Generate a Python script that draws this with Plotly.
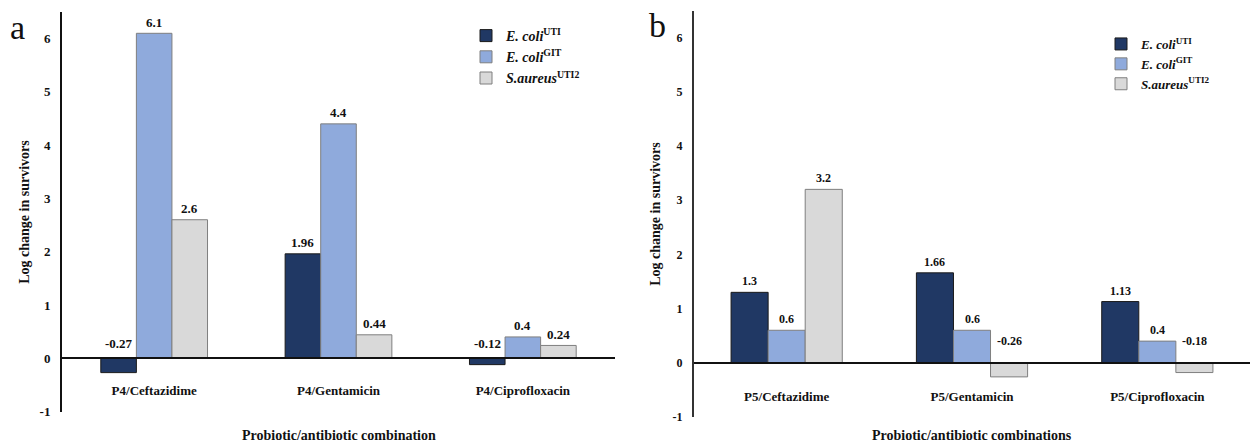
import plotly.graph_objects as go

# ---- data -------------------------------------------------------------
combos_a = ["P4/Ceftazidime", "P4/Gentamicin", "P4/Ciprofloxacin"]
combos_b = ["P5/Ceftazidime", "P5/Gentamicin", "P5/Ciprofloxacin"]

series_names = [
    "<i>E. coli</i><sup>UTI</sup>",
    "<i>E. coli</i><sup>GIT</sup>",
    "<i>S.aureus</i><sup>UTI2</sup>",
]

ecoli_uti_a = [-0.27, 1.96, -0.12]
ecoli_git_a = [6.1, 4.4, 0.4]
saureus_a = [2.6, 0.44, 0.24]

ecoli_uti_b = [1.3, 1.66, 1.13]
ecoli_git_b = [0.6, 0.6, 0.4]
saureus_b = [3.2, -0.26, -0.18]

y_ticks = [-1, 0, 1, 2, 3, 4, 5, 6]
y_tick_text = ["-1", "0", "1", "2", "3", "4", "5", "6"]

# ---- styling ----------------------------------------------------------
FONT = "Liberation Serif, Times New Roman, serif"
COLORS = ["#203864", "#8FAADC", "#D9D9D9"]
OUTLINES = ["#1a1a1a", "#7f7f7f", "#7f7f7f"]
W, H = 1250, 444
Y_RANGE = [-1, 6.5]

panels = [
    dict(cats=combos_a, vals=[ecoli_uti_a, ecoli_git_a, saureus_a],
         xd=[62 / W, 615 / W], yd=[1 - 411.5 / H, 1 - 12 / H],
         bw=0.193, ax="", legend="legend", lab_size=13, tick_size=13,
         neg_shift=15, axcolor="#111111", letter="a", letter_x=17, letter_y=27,
         ytitle_x=25, xtitle="Probiotic/antibiotic combination", standoff=20),
    dict(cats=combos_b, vals=[ecoli_uti_b, ecoli_git_b, saureus_b],
         xd=[694 / W, 1.0], yd=[1 - 417 / H, 1 - 10.5 / H],
         bw=0.2, ax="2", legend="legend2", lab_size=12, tick_size=12,
         neg_shift=22, axcolor="#333333", letter="b", letter_x=657, letter_y=26,
         ytitle_x=656, xtitle="Probiotic/antibiotic combinations", standoff=22),
]

fig = go.Figure()
annotations = []
layout = {}

for p in panels:
    ax = p["ax"]
    xref, yref = "x" + ax, "y" + ax
    n = len(p["cats"])
    for s, vals in enumerate(p["vals"]):
        xs = [i + (s - 1) * p["bw"] for i in range(n)]
        fig.add_trace(go.Bar(
            x=xs, y=vals, width=p["bw"], name=series_names[s],
            marker=dict(color=COLORS[s], line=dict(color=OUTLINES[s], width=1)),
            xaxis=xref, yaxis=yref, legend=p["legend"], showlegend=True,
            hoverinfo="skip",
        ))
        for x, v in zip(xs, vals):
            annotations.append(dict(
                x=x, y=max(v, 0), xref=xref, yref=yref, text=f"<b>{v:g}</b>",
                showarrow=False, yanchor="middle",
                yshift=(11 if v >= 0 else p["neg_shift"]),
                font=dict(family=FONT, size=p["lab_size"], color="#111111"),
            ))

    # x axis sits at the zero level of the y axis
    y0 = p["yd"][0] + (0 - Y_RANGE[0]) / (Y_RANGE[1] - Y_RANGE[0]) * (p["yd"][1] - p["yd"][0])
    layout["xaxis" + ax] = dict(
        domain=p["xd"], range=[-0.5, n - 0.5], anchor="free", position=y0,
        tickvals=list(range(n)), ticktext=p["cats"], showline=True,
        linecolor="#111111", linewidth=1.5, showgrid=False, zeroline=False,
        ticks="", ticklabelstandoff=p["standoff"], automargin=False,
        tickfont=dict(family=FONT, size=13, color="#111111", weight="bold"),
        fixedrange=True,
    )
    layout["yaxis" + ax] = dict(
        domain=p["yd"], range=Y_RANGE, anchor=xref,
        tickvals=y_ticks, ticktext=y_tick_text,
        showline=True, linecolor=p["axcolor"], linewidth=2, showgrid=False,
        zeroline=False, ticks="outside", ticklen=7, tickcolor="rgba(0,0,0,0)",
        automargin=False,
        tickfont=dict(family=FONT, size=p["tick_size"], color="#111111", weight="bold"),
        fixedrange=True,
    )
    # panel letter
    annotations.append(dict(
        x=p["letter_x"] / W, y=1 - p["letter_y"] / H, xref="paper", yref="paper",
        text=p["letter"], showarrow=False, xanchor="center", yanchor="middle",
        font=dict(family=FONT, size=34, color="#111111"),
    ))
    # y title
    annotations.append(dict(
        x=p["ytitle_x"] / W, y=(p["yd"][0] + p["yd"][1]) / 2, xref="paper", yref="paper",
        text="<b>Log change in survivors</b>", textangle=-90, showarrow=False,
        xanchor="center", yanchor="middle",
        font=dict(family=FONT, size=14, color="#111111"),
    ))
    # x title
    annotations.append(dict(
        x=(p["xd"][0] + p["xd"][1]) / 2, y=1 - 435 / H, xref="paper", yref="paper",
        text=f"<b>{p['xtitle']}</b>", showarrow=False,
        xanchor="center", yanchor="middle",
        font=dict(family=FONT, size=14, color="#111111"),
    ))

fig.update_layout(
    width=W, height=H,
    margin=dict(l=0, r=0, t=0, b=0, autoexpand=False),
    paper_bgcolor="white", plot_bgcolor="white",
    barmode="overlay",
    annotations=annotations,
    legend=dict(x=466 / W, y=1 - 20 / H, xanchor="left", yanchor="top",
                bgcolor="rgba(0,0,0,0)", itemwidth=30, tracegroupgap=0,
                font=dict(family=FONT, size=14, color="#111111", weight="bold")),
    legend2=dict(x=1101 / W, y=1 - 29 / H, xanchor="left", yanchor="top",
                 bgcolor="rgba(0,0,0,0)", itemwidth=30, tracegroupgap=0,
                 font=dict(family=FONT, size=13, color="#111111", weight="bold")),
    **layout,
)

fig.write_html("out.html")
